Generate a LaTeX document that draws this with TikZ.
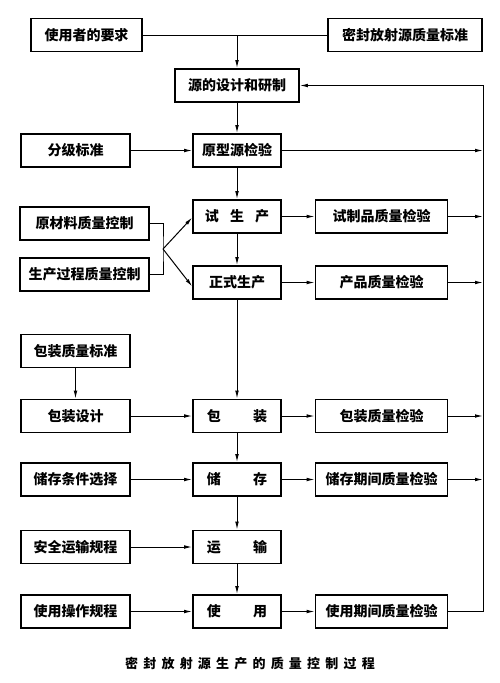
\documentclass[tikz,border=0pt]{standalone}
\usepackage{fontspec}
\setmainfont{Noto Sans CJK SC}
\newfontfamily\capfont[LetterSpace=40]{Noto Sans CJK SC}
\usetikzlibrary{arrows.meta}

\begin{document}
\begin{tikzpicture}[x=1pt,y=-1pt,
    >={Latex[length=8pt,width=3.6pt]},
    box/.style={draw,line width=1.6pt,inner sep=0pt,minimum height=33pt,
      font=\fontsize{14pt}{14pt}\selectfont\bfseries},
    lbox/.style={box,minimum width=109pt},
    mbox/.style={box,minimum width=88pt},
    rbox/.style={box,minimum width=132pt},
    link/.style={line width=1pt}]
      \useasboundingbox (0,0) rectangle (500,683) ;
      \node[box,minimum width=111pt] (user) at (86.5,35) {使用者的要求} ;
      \node[box,minimum width=154pt] (std) at (405,35) {密封放射源质量标准} ;
      \node[box,minimum width=124pt] (design) at (237,85.5) {源的设计和研制} ;
      \node[lbox] (grade) at (75.5,150.5) {分级标准} ;
      \node[mbox] (proto) at (237,150.5) {原型源检验} ;
      \node[mbox] (trial) at (237,216.5) {试\hspace{0.8em}生\hspace{0.8em}产} ;
      \node[rbox] (tchk) at (381.5,216.5) {试制品质量检验} ;
      \node[box,minimum width=129pt] (raw) at (84.5,223.5) {原材料质量控制} ;
      \node[box,minimum width=129pt] (proc) at (84.5,274.5) {生产过程质量控制} ;
      \node[mbox] (formal) at (237,282.5) {正式生产} ;
      \node[rbox] (pchk) at (381.5,282.5) {产品质量检验} ;
      \node[lbox] (pstd) at (75.5,351) {包装质量标准} ;
      \node[lbox] (pdes) at (75.5,416) {包装设计} ;
      \node[mbox] (pack) at (237,416) {包\hspace{2.3em}装} ;
      \node[rbox] (packchk) at (381.5,416) {包装质量检验} ;
      \node[lbox] (scond) at (75.5,479.5) {储存条件选择} ;
      \node[mbox] (store) at (237,479.5) {储\hspace{2.3em}存} ;
      \node[rbox] (schk) at (381.5,479.5) {储存期间质量检验} ;
      \node[lbox] (trule) at (75.5,547) {安全运输规程} ;
      \node[mbox] (trans) at (237,547) {运\hspace{2.3em}输} ;
      \node[lbox] (urule) at (75.5,611.5) {使用操作规程} ;
      \node[mbox] (use) at (237,611.5) {使\hspace{2.3em}用} ;
      \node[rbox] (uchk) at (381.5,611.5) {使用期间质量检验} ;
      \node[font=\capfont\fontsize{13pt}{13pt}\selectfont\bfseries] (cap) at (250,664)
        {密封放射源生产的质量控制过程} ;
      \coordinate (rt) at (483,85.5) ;
      \coordinate (br) at (163,249) ;
      % inputs at the top
      \draw[link] (user) -- (std) ;
      \draw[link,->] (design.north |- user.east) -- (design.north) ;
      % main column
      \draw[link,->] (design) -- (proto) ;
      \draw[link,->] (proto) -- (trial) ;
      \draw[link,->] (trial) -- (formal) ;
      \draw[link,->] (formal) -- (pack) ;
      \draw[link,->] (pack) -- (store) ;
      \draw[link,->] (store) -- (trans) ;
      \draw[link,->] (trans) -- (use) ;
      % left side
      \draw[link,->] (grade) -- (proto) ;
      \draw[link,->] (pstd) -- (pdes) ;
      \draw[link,->] (pdes) -- (pack) ;
      \draw[link,->] (scond) -- (store) ;
      \draw[link,->] (trule) -- (trans) ;
      \draw[link,->] (urule) -- (use) ;
      \draw[link] (raw.east) -| (br) |- (proc.east) ;
      \draw[link,->] (br) -- ([yshift=-1pt]trial.west) ;
      \draw[link,->] (br) -- ([yshift=-4pt]formal.west) ;
      % checks and feedback
      \draw[link,->] (trial) -- (tchk) ;
      \draw[link,->] (formal) -- (pchk) ;
      \draw[link,->] (pack) -- (packchk) ;
      \draw[link,->] (store) -- (schk) ;
      \draw[link,->] (use) -- (uchk) ;
      \draw[link,->] (proto.east) -- (proto.east -| rt) ;
      \draw[link,->] (tchk.east) -- (tchk.east -| rt) ;
      \draw[link,->] (pchk.east) -- (pchk.east -| rt) ;
      \draw[link,->] (packchk.east) -- (packchk.east -| rt) ;
      \draw[link,->] (schk.east) -- (schk.east -| rt) ;
      \draw[link,->] (uchk.east) -| (rt) -- (design.east) ;
    \end{tikzpicture}
\end{document}
